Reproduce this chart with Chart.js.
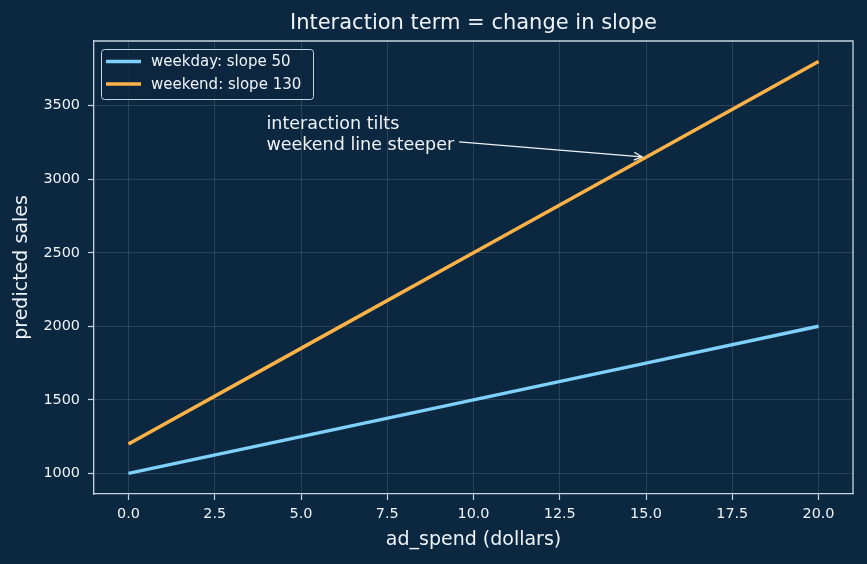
<!DOCTYPE html>
<html>
<head>
<meta charset="utf-8">
<script src="https://cdn.jsdelivr.net/npm/chart.js@4"></script>
<style>
  html, body { margin: 0; padding: 0; background: #0c2740; }
  #wrap { width: 867px; height: 564px; position: relative; }
</style>
</head>
<body>
<div id="wrap"><canvas id="slopeChart"></canvas></div>
<script>
// Data
const adSpend = [0, 5, 10, 15, 20];
const weekdaySales = [1000, 1250, 1500, 1750, 2000];
const weekendSales = [1200, 1850, 2500, 3150, 3800];
const seriesLabels = ['weekday: slope 50', 'weekend: slope 130'];
const xTickValues = [0, 2.5, 5, 7.5, 10, 12.5, 15, 17.5, 20];
const yTickValues = [1000, 1500, 2000, 2500, 3000, 3500];
const annotationLines = ['interaction tilts', 'weekend line steeper'];

const BG = '#0c2740';
const SPINE = '#c6d4e3';
const TEXT = '#eef3f8';
const GRID = 'rgba(255,255,255,0.16)';
const FONT = "'DejaVu Sans', sans-serif";
const seriesColors = ['#7fd0fb', '#ffb347'];

function toPoints(xs, ys) {
    return xs.map((x, i) => ({ x: x, y: ys[i] }));
}

// Draws top/right spines, legend box and arrow annotation
const extrasPlugin = {
    id: 'extras',
    afterDraw(chart) {
        const ctx = chart.ctx;
        const area = chart.chartArea;
        const xs = chart.scales.x;
        const ys = chart.scales.y;

        // top + right spines
        ctx.save();
        ctx.strokeStyle = SPINE;
        ctx.lineWidth = 1.3;
        ctx.beginPath();
        ctx.moveTo(area.left, area.top);
        ctx.lineTo(area.right, area.top);
        ctx.lineTo(area.right, area.bottom);
        ctx.stroke();
        ctx.restore();

        // legend inside upper left
        ctx.save();
        const lx = area.left + 7, ly = area.top + 8, lw = 212, lh = 50;
        ctx.beginPath();
        ctx.roundRect(lx + 0.5, ly + 0.5, lw, lh, 3);
        ctx.fillStyle = 'rgba(12,39,64,0.8)';
        ctx.fill();
        ctx.strokeStyle = SPINE;
        ctx.lineWidth = 1;
        ctx.stroke();
        ctx.font = '15px ' + FONT;
        ctx.textBaseline = 'middle';
        chart.data.datasets.forEach((ds, i) => {
            const y = ly + 12.5 + i * 22.5;
            ctx.strokeStyle = ds.borderColor;
            ctx.lineWidth = 3.5;
            ctx.beginPath();
            ctx.moveTo(lx + 5, y);
            ctx.lineTo(lx + 40, y);
            ctx.stroke();
            ctx.fillStyle = TEXT;
            ctx.fillText(ds.label, lx + 50, y + 1);
        });
        ctx.restore();

        // annotation text + arrow
        ctx.save();
        ctx.font = '17.5px ' + FONT;
        ctx.fillStyle = TEXT;
        ctx.textBaseline = 'alphabetic';
        const tx = xs.getPixelForValue(4);
        const baseLast = ys.getPixelForValue(3200);
        const lineH = 21;
        const n = annotationLines.length;
        let tw = 0;
        annotationLines.forEach((t, i) => {
            ctx.fillText(t, tx, baseLast - (n - 1 - i) * lineH);
            tw = Math.max(tw, ctx.measureText(t).width);
        });
        const boxTop = baseLast - (n - 1) * lineH - 15;
        const boxBottom = baseLast + 4;
        const cx = tx + tw / 2, cy = (boxTop + boxBottom) / 2;
        const hx = xs.getPixelForValue(15), hy = ys.getPixelForValue(3150);
        const dx = hx - cx, dy = hy - cy;
        const len = Math.hypot(dx, dy);
        const ux = dx / len, uy = dy / len;
        const tStart = (tw / 2 + 5) / ux;
        const sx = cx + ux * tStart, sy = cy + uy * tStart;
        const ex = hx - ux * 4, ey = hy - uy * 4;
        ctx.strokeStyle = TEXT;
        ctx.lineWidth = 1.4;
        ctx.beginPath();
        ctx.moveTo(sx, sy);
        ctx.lineTo(ex, ey);
        ctx.stroke();
        const hl = 8, hw = 4;
        ctx.beginPath();
        ctx.moveTo(ex - ux * hl - uy * hw, ey - uy * hl + ux * hw);
        ctx.lineTo(ex, ey);
        ctx.lineTo(ex - ux * hl + uy * hw, ey - uy * hl - ux * hw);
        ctx.stroke();
        ctx.restore();
    }
};

const chart = new Chart(document.getElementById('slopeChart'), {
    type: 'line',
    data: {
        datasets: [
            {
                label: seriesLabels[0],
                data: toPoints(adSpend, weekdaySales),
                borderColor: seriesColors[0],
                backgroundColor: seriesColors[0],
                borderWidth: 3.5,
                pointRadius: 0,
                tension: 0
            },
            {
                label: seriesLabels[1],
                data: toPoints(adSpend, weekendSales),
                borderColor: seriesColors[1],
                backgroundColor: seriesColors[1],
                borderWidth: 3.5,
                pointRadius: 0,
                tension: 0
            }
        ]
    },
    options: {
        responsive: true,
        maintainAspectRatio: false,
        animation: false,
        layout: { padding: { left: 0, right: 14, top: 0, bottom: 0 } },
        plugins: {
            legend: { display: false },
            tooltip: { enabled: false },
            title: {
                display: true,
                fullSize: false,
                text: 'Interaction term = change in slope',
                color: TEXT,
                font: { family: FONT, size: 21, weight: 'normal' },
                padding: { top: 11.4, bottom: 4.4 }
            }
        },
        scales: {
            x: {
                type: 'linear',
                min: -1,
                max: 21,
                afterFit: s => { s.height = 70; },
                afterBuildTicks: s => { s.ticks = xTickValues.map(v => ({ value: v })); },
                ticks: {
                    color: TEXT,
                    font: { family: FONT, size: 14.4 },
                    padding: 6,
                    maxRotation: 0,
                    callback: v => v.toFixed(1)
                },
                grid: { color: GRID, lineWidth: 0.8, tickColor: SPINE, tickLength: 6, tickWidth: 1.2 },
                border: { color: SPINE, width: 1.3 },
                title: {
                    display: true,
                    text: 'ad_spend (dollars)',
                    color: TEXT,
                    font: { family: FONT, size: 19 },
                    padding: { top: 0, bottom: 12.6 }
                }
            },
            y: {
                type: 'linear',
                min: 860,
                max: 3940,
                afterFit: s => { s.width = 94; },
                afterBuildTicks: s => { s.ticks = yTickValues.map(v => ({ value: v })); },
                ticks: {
                    color: TEXT,
                    font: { family: FONT, size: 14.4 },
                    padding: 8,
                    callback: v => String(v)
                },
                grid: { color: GRID, lineWidth: 0.8, tickColor: SPINE, tickLength: 6, tickWidth: 1.2 },
                border: { color: SPINE, width: 1.3 },
                title: {
                    display: true,
                    text: 'predicted sales',
                    color: TEXT,
                    font: { family: FONT, size: 19 },
                    padding: { top: 11, bottom: 0 }
                }
            }
        }
    },
    plugins: [extrasPlugin]
});
</script>
</body>
</html>
